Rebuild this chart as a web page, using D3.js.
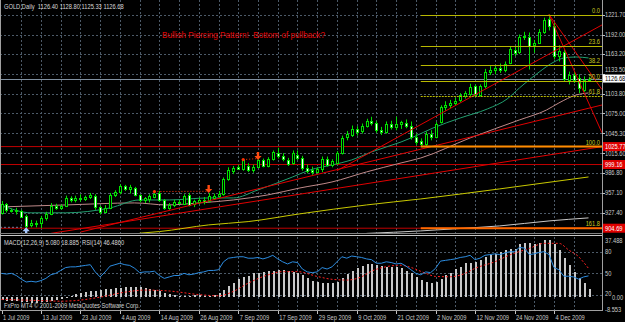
<!DOCTYPE html>
<html>
<head>
<meta charset="utf-8">
<script src="https://cdn.jsdelivr.net/npm/d3@7"></script>
<style>
  html, body { margin: 0; padding: 0; background: #000; }
  svg { display: block; }
  text { font-family: "Liberation Sans", Arial, sans-serif; white-space: pre; }
</style>
</head>
<body>
<script>
// GOLD daily bars, 1 Jul - 15 Dec 2009
const dates = [
  "2009-07-01","2009-07-02","2009-07-03",
  "2009-07-06","2009-07-07","2009-07-08","2009-07-09","2009-07-10",
  "2009-07-13","2009-07-14","2009-07-15","2009-07-16","2009-07-17",
  "2009-07-20","2009-07-21","2009-07-22","2009-07-23","2009-07-24",
  "2009-07-27","2009-07-28","2009-07-29","2009-07-30","2009-07-31",
  "2009-08-03","2009-08-04","2009-08-05","2009-08-06","2009-08-07",
  "2009-08-10","2009-08-11","2009-08-12","2009-08-13","2009-08-14",
  "2009-08-17","2009-08-18","2009-08-19","2009-08-20","2009-08-21",
  "2009-08-24","2009-08-25","2009-08-26","2009-08-27","2009-08-28",
  "2009-08-31","2009-09-01","2009-09-02","2009-09-03","2009-09-04",
  "2009-09-07","2009-09-08","2009-09-09","2009-09-10","2009-09-11",
  "2009-09-14","2009-09-15","2009-09-16","2009-09-17","2009-09-18",
  "2009-09-21","2009-09-22","2009-09-23","2009-09-24","2009-09-25",
  "2009-09-28","2009-09-29","2009-09-30","2009-10-01","2009-10-02",
  "2009-10-05","2009-10-06","2009-10-07","2009-10-08","2009-10-09",
  "2009-10-12","2009-10-13","2009-10-14","2009-10-15","2009-10-16",
  "2009-10-19","2009-10-20","2009-10-21","2009-10-22","2009-10-23",
  "2009-10-26","2009-10-27","2009-10-28","2009-10-29","2009-10-30",
  "2009-11-02","2009-11-03","2009-11-04","2009-11-05","2009-11-06",
  "2009-11-09","2009-11-10","2009-11-11","2009-11-12","2009-11-13",
  "2009-11-16","2009-11-17","2009-11-18","2009-11-19","2009-11-20",
  "2009-11-23","2009-11-24","2009-11-25","2009-11-26","2009-11-27",
  "2009-11-30","2009-12-01","2009-12-02","2009-12-03","2009-12-04",
  "2009-12-07","2009-12-08","2009-12-09","2009-12-10","2009-12-11",
  "2009-12-14","2009-12-15"
]

const open = [927,941,931, 932,930,923,909,913, 912,920,926,938,935, 938,949,946,950,948,
  951,952,936,929,935, 954,958,967,963,964, 954,946,948,951,957, 946,935,939,943,941,
  954,940,944,947,945, 950,953,955,977,990, 995,993,997,991,996, 1006,997,1008,1016,1012,
  1006,1001,1014,1009,994, 991,988,992,1008,999, 1002,1016,1040,1043,1052, 1049,1057,1063,1061,1051,
  1047,1060,1055,1059,1061, 1056,1040,1034,1029,1045, 1040,1062,1084,1088,1090, 1095,1101,1104,1115,1103,
  1116,1137,1140,1143,1140, 1150,1169,1166,1188,1189, 1176,1180,1196,1215,1204, 1160,1166,1125,1132,1128,
  1110,1126.40]
const high = [945,942,934, 935,932,925,917,916, 923,929,942,941,940, 953,952,953,955,953,
  957,955,938,939,957, 961,970,969,969,966, 955,951,955,960,960, 948,942,947,947,955,
  957,947,950,951,957, 956,960,980,995,997, 999,1007,1001,999,1007, 1008,1010,1020,1024,1016,
  1009,1020,1020,1012,999, 996,995,1011,1011,1007, 1019,1042,1049,1057,1056, 1060,1067,1070,1064,1055,
  1063,1064,1070,1064,1066, 1063,1045,1038,1048,1050, 1062,1087,1093,1095,1098, 1105,1108,1119,1118,1118,
  1141,1145,1146,1149,1152, 1175,1174,1192,1196,1195, 1184,1200,1217,1221.7,1210, 1176,1170,1137,1138,1133,
  1130,1128.80]
const low = [925,928,928, 925,920,902,906,906, 905,916,924,932,932, 936,943,943,944,945,
  948,932,925,927,933, 951,955,960,956,952, 943,942,943,949,944, 932,932,936,940,939,
  937,936,940,940,943, 947,950,953,975,985, 991,990,988,987,994, 995,995,1005,1008,1004,
  997,999,1006,990,986, 984,986,988,996,995, 999,1014,1035,1040,1042, 1045,1054,1057,1046,1043,
  1045,1051,1050,1052,1053, 1036,1028,1025.77,1027,1035, 1038,1060,1079,1083,1086, 1092,1097,1101,1100,1100,
  1112,1132,1133,1135,1136, 1148,1160,1163,1184,1140, 1165,1178,1193,1198,1155, 1152,1122,1118,1120,1105,
  1107,1125.33]
const close = [941,931,932, 930,922,908,913,911, 920,926,938,935,938, 950,946,950,948,951,
  954,936,929,935,954, 958,967,963,966,954, 946,949,952,956,946, 935,939,944,942,952,
  939,945,947,944,953, 953,955,977,991,994, 993,1006,991,996,1006, 997,1008,1017,1012,1007,
  1000,1016,1009,994,990, 988,992,1008,999,1004, 1016,1039,1044,1052,1048, 1057,1063,1061,1050,1047,
  1060,1055,1059,1062,1056, 1040,1032,1029,1045,1040, 1060,1084,1088,1090,1094, 1102,1105,1114,1102,1115,
  1137,1140,1143,1139,1148, 1170,1165,1188,1190,1175, 1180,1196,1213,1204,1160, 1168,1126,1132,1125,1112,
  1125,1126.68]

// moving averages as [bar, price]
const maGreen = [[0,939],[6,927.5],[13,927.5],[22,934.8],[28,946.6],[34,946.6],[42,949.6],[47,949.6],
  [52,961.5],[59,980.7],[62.5,991],[67,998.5],[71,1006],[75,1017.8],[81,1032.6],[83.5,1040],[87.5,1053.4],
  [93,1068.2],[98.5,1081.6],[102.5,1096.4],[105,1112.7],[109,1136.4],[112,1151.3],[114,1157.2],[116.5,1158.7],[119,1157.2]]
const maRose = [[0,936.3],[13,939.2],[27,942.2],[33.5,939.2],[40,942.2],[47,946.6],[54,954.1],[60.5,964.4],
  [67,973.3],[74,988.2],[81,1001.5],[85,1008.9],[95,1038.6],[105,1065.3],[110.5,1080.1],[113,1090.5],[116.5,1102.3],[119,1105.3]]
const maYellow = [[28,897.3],[32,899.7],[42,909.6],[50,914.5],[60.5,926],[74,939.2],[85,948.1],[101,963],[119,980.7]]
const maSilver = [[74,897],[85,900.7],[91.5,903.6],[101,908.1],[111,915.5],[119,920]]

// trend rays [bar1, price1, bar2, price2]
const trendRays = [[16,898.9,118,1080.8],[10,897,118,1021.4],[68,990,118,1191.2],[111,1221.7,119,1138.7],[111,1221.7,119,1090.9]]
const hLines = [1025.77, 999.16, 904.69]
const bid = 1126.68

const fibLevels = [0, 23.6, 38.2, 50, 61.8, 100, 161.8]
const fibHigh = 1221.7, fibLow = 1025.77, fibStart = 85

const arrowsDown = [[42, 957], [52, 1006]]
const arrowLinks = [[31, 959, 42, 959.5], [49, 1006.5, 52, 1008]]
const arrowsUp = [[5, 906]]

const priceTicks = [1221.70, 1192.00, 1163.20, 1133.50, 1103.80, 1075.00, 1045.30, 1015.60, 986.80, 957.10, 927.40]
const dateTicks = ["2009-07-01","2009-07-13","2009-07-23","2009-08-04","2009-08-14","2009-08-26","2009-09-07",
  "2009-09-17","2009-09-29","2009-10-09","2009-10-21","2009-11-02","2009-11-12","2009-11-24","2009-12-04"]

const macd = [-2.5,-2.8,-3.0,-3.2,-3.5,-3.8,-4.0,-4.0,-3.8,-3.5,-3.0,-2.4,-1.5,-0.8,0.3,1.6,2.6,3.3,3.8,4.1,
  4.4,4.8,5.2,5.6,6.0,6.6,6.3,6.6,6.3,5.6,5.0,4.4,3.7,2.6,1.8,1.1,0.7,0.6,0.5,0.8,
  1.1,0.6,0.4,1.0,2.2,4.4,7.1,9.3,11.6,13.3,13.8,15.6,16.0,16.7,16.9,17.3,17.8,17.6,17.3,16.7,
  16.0,14.5,12.2,10.7,10.0,9.3,8.9,8.9,10.0,12.2,15.1,16.9,18.9,20.5,21.6,21.6,21.1,20.5,20.0,19.6,
  19.6,18.9,17.0,15.6,13.3,11.1,10.0,9.3,10.0,11.6,14.5,16.0,18.2,20.0,22.2,22.2,23.3,24.5,26.7,27.8,
  28.5,30.0,31.1,31.6,32.0,35.1,36.0,36.0,35.1,35.5,37.5,37.8,35.0,31.0,26.0,21.0,16.5,12.5,8.8,5.08]
const macdSignal = [[0,-1.8],[8,-2.6],[12,-3.0],[15,-2.6],[20,-0.3],[25,3.0],[29,4.4],[34,3.8],[40,1.4],[44,0.6],
  [47,3.5],[50,9],[54,14.5],[57,16.7],[60,16.7],[64,13.5],[67,11.6],[70,11.1],[73,13.3],[75,17],[78,20],[81,21],
  [83,19.5],[86,15.6],[88,13.5],[91,13.3],[94,15.6],[96,18.9],[100,23.3],[103,27.8],[107,32.2],[110,35.6],
  [113,35.6],[115,31.1],[117,26.7],[118,23],[119,18.885]]
const rsi = [50,49,50,47,42,38,39,38,40,43,48,50,54,58,59,59,60,61,62,52,
  45,52,60,62,64,62,61,57,51,52,52,53,47,43,45,47,47,50,48,49,
  51,52,54,54,55,66,71,72,73,73,71,71,72,70,72,75,70,66,63,66,
  65,56,52,51,52,58,56,59,66,73,71,74,73,72,70,69,64,64,66,65,
  63,64,60,55,50,48,52,51,57,67,68,69,70,72,73,75,69,71,75,76,
  77,76,78,80,80,86,85,76,77,79,80,76,58,55,46,46,45,42,45,46.486]
const rsiLevels = [80, 50, 20]

const width = 625, height = 322
const axisX = 602
const mainBottom = 233
const sub = { top: 237, bottom: 310 }
const lime = "#00e000"

const svg = d3.select("body").append("svg").attr("width", width).attr("height", height).style("background", "#000")

const x = d3.scaleLinear().domain([0, dates.length - 1]).range([1.5, 588.5])
const y = d3.scaleLinear().domain([927.4, 1221.7]).range([212.9, 14.5])
const yMacd = d3.scaleLinear().domain([-8.553, 37.488]).range([309.5, 240.5])
const yRsi = d3.scaleLinear().domain([20, 80]).range([295, 251.7])
const px = v => Math.round(v) + 0.5

const defs = svg.append("defs")
defs.append("clipPath").attr("id", "clipMain").append("rect").attr("x", 0).attr("y", 0).attr("width", axisX).attr("height", mainBottom)
defs.append("clipPath").attr("id", "clipSub").append("rect").attr("x", 0).attr("y", sub.top).attr("width", axisX).attr("height", sub.bottom - sub.top)

const label = (g, tx, ty, str, fill, anchor) => g.append("text")
  .attr("transform", `translate(${tx},${ty}) scale(0.82,1)`)
  .attr("font-size", 7).attr("fill", fill).attr("text-anchor", anchor || "start").text(str)

// grid
const grid = svg.append("g").attr("stroke", "#4c5a68").attr("stroke-dasharray", "2,2").attr("shape-rendering", "crispEdges")
d3.range(4, dates.length, 4).forEach(i => {
  grid.append("line").attr("x1", px(x(i))).attr("x2", px(x(i))).attr("y1", 0).attr("y2", mainBottom)
  grid.append("line").attr("x1", px(x(i))).attr("x2", px(x(i))).attr("y1", sub.top).attr("y2", sub.bottom)
})
priceTicks.forEach(v => grid.append("line").attr("x1", 0).attr("x2", axisX).attr("y1", px(y(v))).attr("y2", px(y(v))))
rsiLevels.forEach(v => grid.append("line").attr("x1", 0).attr("x2", axisX).attr("y1", px(yRsi(v))).attr("y2", px(yRsi(v))))

// main panel
const chart = svg.append("g").attr("clip-path", "url(#clipMain)")

hLines.forEach(v => chart.append("line").attr("x1", 0).attr("x2", axisX).attr("y1", y(v)).attr("y2", y(v))
  .attr("stroke", "#c00000").attr("stroke-width", 1))
chart.append("line").attr("x1", 0).attr("x2", axisX).attr("y1", px(y(bid))).attr("y2", px(y(bid))).attr("stroke", "#8090a0")

const maLine = d3.line().x(d => x(d[0])).y(d => y(d[1])).curve(d3.curveMonotoneX)
const mas = [[maSilver, "#c8c8c8"], [maYellow, "#c8c800"], [maRose, "#c08a8a"], [maGreen, "#22a070"]]
mas.forEach(([pts, col]) => chart.append("path").attr("d", maLine(pts)).attr("fill", "none").attr("stroke", col).attr("stroke-width", 1))

// candles
dates.forEach((d, i) => {
  const cx = Math.round(x(i))
  const top = Math.round(y(Math.max(open[i], close[i])))
  const bot = Math.round(y(Math.min(open[i], close[i])))
  chart.append("line").attr("x1", cx + 0.5).attr("x2", cx + 0.5).attr("y1", y(high[i])).attr("y2", y(low[i])).attr("stroke", lime)
  chart.append("rect").attr("x", cx - 0.5).attr("y", top + 0.5).attr("width", 2).attr("height", Math.max(1, bot - top))
    .attr("fill", close[i] >= open[i] ? "#000" : "#fff").attr("stroke", lime).attr("shape-rendering", "crispEdges")
})

// trend rays to the right edge
const idxEdge = x.invert(axisX)
trendRays.forEach(([i1, p1, i2, p2]) => {
  const pEnd = p1 + (p2 - p1) * (idxEdge - i1) / (i2 - i1)
  chart.append("line").attr("x1", x(i1)).attr("y1", y(p1)).attr("x2", axisX).attr("y2", y(pEnd)).attr("stroke", "#e00000")
})

// fibonacci
const fibPrice = lvl => fibHigh - (fibHigh - fibLow) * lvl / 100
fibLevels.forEach(lvl => {
  const fy = y(fibPrice(lvl))
  const strong = lvl === 100 || lvl === 161.8
  chart.append("line").attr("x1", x(fibStart)).attr("x2", axisX).attr("y1", strong ? fy : px(fy)).attr("y2", strong ? fy : px(fy))
    .attr("stroke", strong ? (lvl === 100 ? "#ff8c00" : "#ff6a00") : "#b8b800").attr("stroke-width", strong ? 2 : 1)
    .attr("stroke-dasharray", lvl === 61.8 ? "2,1" : null)
  label(chart, 600, fy - 2, lvl.toFixed(1), "#c8c820", "end")
})

// signal arrows
arrowLinks.forEach(([i1, p1, i2, p2]) => {
  chart.append("line").attr("x1", x(i1)).attr("y1", y(p1)).attr("x2", x(i2)).attr("y2", y(p2))
    .attr("stroke", "#ff3000").attr("stroke-dasharray", "1,2")
  chart.append("circle").attr("cx", x(i1)).attr("cy", y(p1)).attr("r", 1.6).attr("fill", "#ff3000")
})
arrowsDown.forEach(([i, p]) => chart.append("path").attr("transform", `translate(${x(i)},${y(p)})`)
  .attr("d", "M-1.2,-8L1.2,-8L1.2,-4L3.6,-4L0,0L-3.6,-4L-1.2,-4Z").attr("fill", "#ff4a10"))
arrowsUp.forEach(([i, p]) => {
  chart.append("line").attr("x1", 0).attr("x2", x(i) - 3).attr("y1", y(p)).attr("y2", y(p)).attr("stroke", "#7080a0").attr("stroke-dasharray", "2,2")
  chart.append("path").attr("transform", `translate(${x(i)},${y(p)})`)
    .attr("d", "M-1.2,8L1.2,8L1.2,4L3.6,4L0,0L-3.6,4L-1.2,4Z").attr("fill", "#a8c8ff")
})

chart.append("text").attr("x", 162).attr("y", 38).attr("font-size", 8.5).attr("fill", "#e00808")
  .attr("textLength", 163).attr("lengthAdjust", "spacingAndGlyphs")
  .text("Bullish Piercing Pattern!  Bottom of pullback?")

label(svg, 4, 9, `GOLD,Daily  ${open[119].toFixed(2)} ${high[119].toFixed(2)} ${low[119].toFixed(2)} ${close[119].toFixed(2)}`, "#d8d8d8")

// indicator panel
const ind = svg.append("g").attr("clip-path", "url(#clipSub)")
macd.forEach((v, i) => {
  const y0 = yMacd(0), y1 = yMacd(v)
  ind.append("rect").attr("x", Math.round(x(i))).attr("width", 2).attr("y", Math.min(y0, y1)).attr("height", Math.abs(y1 - y0))
    .attr("fill", "#c8c8c8").attr("shape-rendering", "crispEdges")
})
ind.append("path").attr("d", d3.line().x(d => x(d[0])).y(d => yMacd(d[1])).curve(d3.curveMonotoneX)(macdSignal))
  .attr("fill", "none").attr("stroke", "#ff2020").attr("stroke-dasharray", "2,2")
ind.append("path").attr("d", d3.line().x((d, i) => x(i)).y(d => yRsi(d))(rsi))
  .attr("fill", "none").attr("stroke", "#2c8ce0").attr("stroke-width", 1)

label(svg, 4, 245, `MACD(12,26,9) ${macd[119].toFixed(3)} ${macdSignal[macdSignal.length - 1][1].toFixed(3)}  RSI(14) ${rsi[119].toFixed(4)}`, "#d8d8d8")
label(svg, 4, 308, "FxPro MT4 \u00a9 2001-2009 MetaQuotes Software Corp.", "#d0d0d0")

// frame
const frame = svg.append("g").attr("shape-rendering", "crispEdges")
frame.append("line").attr("x1", 0.5).attr("x2", 0.5).attr("y1", 0).attr("y2", sub.bottom).attr("stroke", "#a0a0a0")
frame.append("line").attr("x1", axisX + 0.5).attr("x2", axisX + 0.5).attr("y1", 0).attr("y2", sub.bottom + 1).attr("stroke", "#a0a0a0")
frame.append("line").attr("x1", 0).attr("x2", axisX).attr("y1", 233.5).attr("y2", 233.5).attr("stroke", "#808080")
frame.append("line").attr("x1", 0).attr("x2", axisX).attr("y1", 235.5).attr("y2", 235.5).attr("stroke", "#c8c8c8")
frame.append("line").attr("x1", 0).attr("x2", axisX).attr("y1", sub.bottom + 0.5).attr("y2", sub.bottom + 0.5).attr("stroke", "#a0a0a0")

// price axis
const axis = svg.append("g")
priceTicks.forEach(v => {
  axis.append("line").attr("x1", axisX).attr("x2", axisX + 3).attr("y1", px(y(v))).attr("y2", px(y(v))).attr("stroke", "#c0c0c0")
  // the bid box sits over this tick's label, as in the terminal; lift it clear
  const nearBid = Math.abs(y(v) - y(bid)) < 8
  label(axis, 605, y(v) + (nearBid ? -1.5 : 2.5), v.toFixed(2), "#c8c8c8")
})
hLines.forEach(v => {
  axis.append("rect").attr("x", axisX + 1).attr("y", y(v) - 4.5).attr("width", 23).attr("height", 9).attr("fill", "#e00000")
  label(axis, 605, y(v) + 2.5, v.toFixed(2), "#ffffff")
})
axis.append("rect").attr("x", axisX + 1).attr("y", y(bid) - 4).attr("width", 23).attr("height", 8).attr("fill", "#ffffff")
label(axis, 605, y(bid) + 2.5, bid.toFixed(2), "#000000")

label(axis, 605, yMacd(37.488) + 2.5, "37.488", "#c8c8c8")
label(axis, 605, yRsi(80) + 2.5, "80", "#c8c8c8")
label(axis, 605, yRsi(50) + 2.5, "50", "#c8c8c8")
label(axis, 605, yRsi(20) + 1, "20", "#c8c8c8")
label(axis, 612, yMacd(0) + 3, "0.00", "#c8c8c8")
label(axis, 605, yMacd(-8.553) + 2, "-8.553", "#c8c8c8")

// date axis
const parse = d3.timeParse("%Y-%m-%d"), fmt = d3.timeFormat("%-d %b %Y")
dateTicks.forEach(d => {
  const i = dates.indexOf(d)
  axis.append("line").attr("x1", px(x(i))).attr("x2", px(x(i))).attr("y1", sub.bottom + 1).attr("y2", sub.bottom + 4).attr("stroke", "#c0c0c0")
  label(axis, x(i) + 1.5, 320, fmt(parse(d)), "#c8c8c8")
})
</script>
</body>
</html>
